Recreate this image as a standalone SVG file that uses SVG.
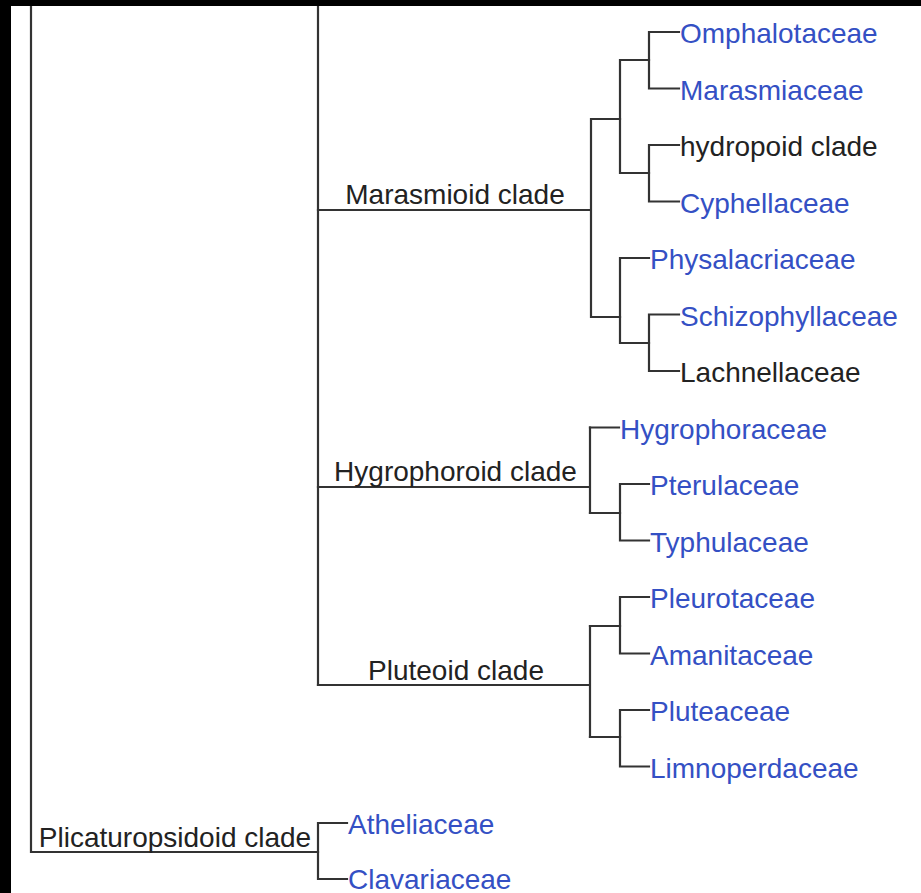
<svg xmlns="http://www.w3.org/2000/svg" width="921" height="893" viewBox="0 0 921 893">
<style>
.ln{fill:none;stroke:#333;stroke-width:2.2;stroke-linecap:square}
text{font-family:"Liberation Sans",Arial,sans-serif;font-size:28px}
.lk{fill:#3450c4}
.bk{fill:#222}
.cl{fill:#222;text-anchor:middle}
</style>
<rect x="0" y="0" width="921" height="893" fill="#fff"/>
<g id="connectors">
<path class="ln" d="M31 0V852H318"/>
<path class="ln" d="M318 0V685"/>
<path class="ln" d="M318 210H591M591 119V317M591 119H620M591 317H620"/>
<path class="ln" d="M620 60H649M620 60V173M620 173H649"/>
<path class="ln" d="M649 32H679M649 32V88.5H679"/>
<path class="ln" d="M649 145H679M649 145V201.5H679"/>
<path class="ln" d="M620 258H649M620 258V343M620 343H649"/>
<path class="ln" d="M649 314.5H679M649 314.5V371H679"/>
<path class="ln" d="M318 487H590M590 427.5V513"/>
<path class="ln" d="M590 427.5H619M590 513H620"/>
<path class="ln" d="M620 484H649M620 484V540.5H649"/>
<path class="ln" d="M318 685H590M590 626V737"/>
<path class="ln" d="M590 626H620M590 737H620"/>
<path class="ln" d="M620 597H649M620 597V653.5H649"/>
<path class="ln" d="M620 710H649M620 710V766.5H649"/>
<path class="ln" d="M318 823H347M318 823V879H347"/>
</g>
<g id="marasmioid-clade"><text class="cl" x="455" y="204">Marasmioid clade</text></g>
<g id="hygrophoroid-clade"><text class="cl" x="455.5" y="481">Hygrophoroid clade</text></g>
<g id="pluteoid-clade"><text class="cl" x="456" y="680">Pluteoid clade</text></g>
<g id="plicaturopsidoid-clade"><text class="cl" x="175" y="847">Plicaturopsidoid clade</text></g>
<g id="omphalotaceae"><text class="lk" x="680" y="43">Omphalotaceae</text></g>
<g id="marasmiaceae"><text class="lk" x="680" y="99.5">Marasmiaceae</text></g>
<g id="hydropoid-clade"><text class="bk" x="680" y="156">hydropoid clade</text></g>
<g id="cyphellaceae"><text class="lk" x="680" y="212.5">Cyphellaceae</text></g>
<g id="physalacriaceae"><text class="lk" x="650" y="269">Physalacriaceae</text></g>
<g id="schizophyllaceae"><text class="lk" x="680" y="325.5">Schizophyllaceae</text></g>
<g id="lachnellaceae"><text class="bk" x="680" y="382">Lachnellaceae</text></g>
<g id="hygrophoraceae"><text class="lk" x="620" y="438.5">Hygrophoraceae</text></g>
<g id="pterulaceae"><text class="lk" x="650" y="495">Pterulaceae</text></g>
<g id="typhulaceae"><text class="lk" x="650" y="551.5">Typhulaceae</text></g>
<g id="pleurotaceae"><text class="lk" x="650" y="608">Pleurotaceae</text></g>
<g id="amanitaceae"><text class="lk" x="650" y="664.5">Amanitaceae</text></g>
<g id="pluteaceae"><text class="lk" x="650" y="721">Pluteaceae</text></g>
<g id="limnoperdaceae"><text class="lk" x="650" y="777.5">Limnoperdaceae</text></g>
<g id="atheliaceae"><text class="lk" x="348" y="834">Atheliaceae</text></g>
<g id="clavariaceae"><text class="lk" x="348" y="889">Clavariaceae</text></g>
<rect x="0" y="0" width="11" height="893" fill="#000"/>
<rect x="0" y="0" width="921" height="6" fill="#000"/>
</svg>
